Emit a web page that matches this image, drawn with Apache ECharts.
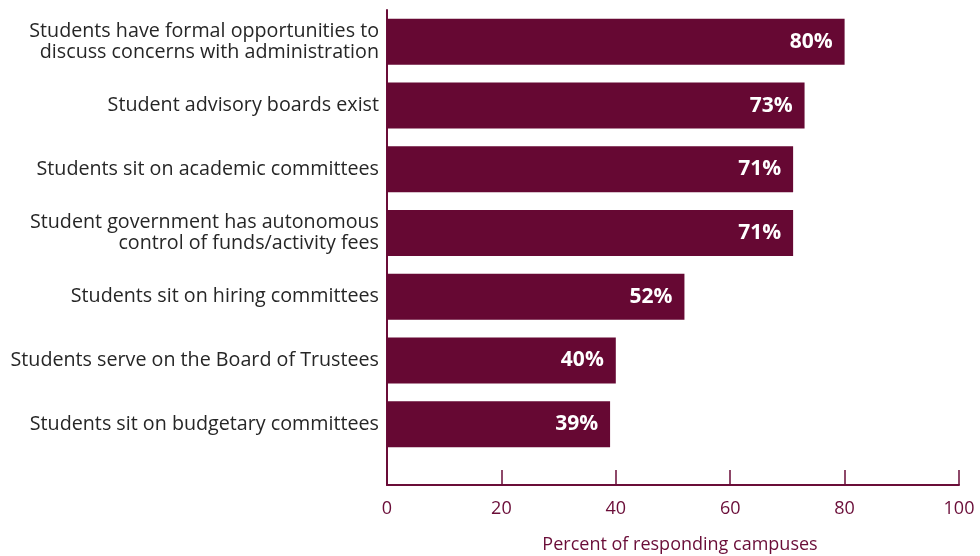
<!DOCTYPE html>
<html>
<head>
<meta charset="utf-8">
<script src="https://cdn.jsdelivr.net/npm/echarts@6/dist/echarts.min.js"></script>
<style>
  html, body { margin: 0; padding: 0; background: #ffffff; }
  #chart { width: 980px; height: 556px; }
</style>
</head>
<body>
<div id="chart"></div>
<script>
// Campus practices for student participation in governance
const categories = [
  'Students have formal opportunities to\ndiscuss concerns with administration',
  'Student advisory boards exist',
  'Students sit on academic committees',
  'Student government has autonomous\ncontrol of funds/activity fees',
  'Students sit on hiring committees',
  'Students serve on the Board of Trustees',
  'Students sit on budgetary committees'
];
const percents = [80, 73, 71, 71, 52, 40, 39];
const xTicks = [0, 20, 40, 60, 80, 100];

const maroon = '#660833';
const axisColor = '#6a0d38';
const font = '"Open Sans", "Noto Sans", sans-serif';

const chart = echarts.init(document.getElementById('chart'));
chart.setOption({
  animation: false,
  grid: [
    { left: 387, right: 21, top: 10, height: 446, containLabel: false, outerBoundsMode: 'none' },
    { left: 387, right: 21, top: 10, bottom: 71, containLabel: false, outerBoundsMode: 'none' }
  ],
  xAxis: [
    {
      gridIndex: 0,
      type: 'value',
      min: xTicks[0],
      max: xTicks[xTicks.length - 1],
      interval: 20,
      offset: 29,
      axisLine: { show: true, lineStyle: { color: axisColor, width: 2 } },
      axisTick: { show: true, inside: true, length: 15, lineStyle: { color: axisColor, width: 1.5 } },
      splitLine: { show: false },
      axisLabel: { color: axisColor, fontFamily: font, fontSize: 18, margin: 15 },
      name: 'Percent of responding campuses',
      nameLocation: 'middle',
      nameGap: 51,
      nameTextStyle: { color: axisColor, fontFamily: font, fontSize: 18, padding: [0, 0, 0, 14] }
    },
    { gridIndex: 1, type: 'value', show: false }
  ],
  yAxis: [
    {
      gridIndex: 0,
      type: 'category',
      inverse: true,
      data: categories,
      axisLine: { show: false },
      axisTick: { show: false },
      axisLabel: {
        color: '#262626',
        fontFamily: font,
        fontSize: 19.7,
        lineHeight: 21,
        align: 'right',
        margin: 8
      }
    },
    {
      gridIndex: 1,
      type: 'value',
      axisLine: { show: true, lineStyle: { color: axisColor, width: 2 } },
      axisTick: { show: false },
      axisLabel: { show: false },
      splitLine: { show: false }
    }
  ],
  series: [
    {
      type: 'bar',
      xAxisIndex: 0,
      yAxisIndex: 0,
      data: percents,
      barWidth: 46,
      itemStyle: { color: maroon },
      label: {
        show: true,
        position: 'insideRight',
        distance: 12,
        formatter: '{c}%',
        color: '#ffffff',
        fontFamily: font,
        fontWeight: 'bold',
        fontSize: 21
      }
    }
  ]
});
</script>
</body>
</html>
